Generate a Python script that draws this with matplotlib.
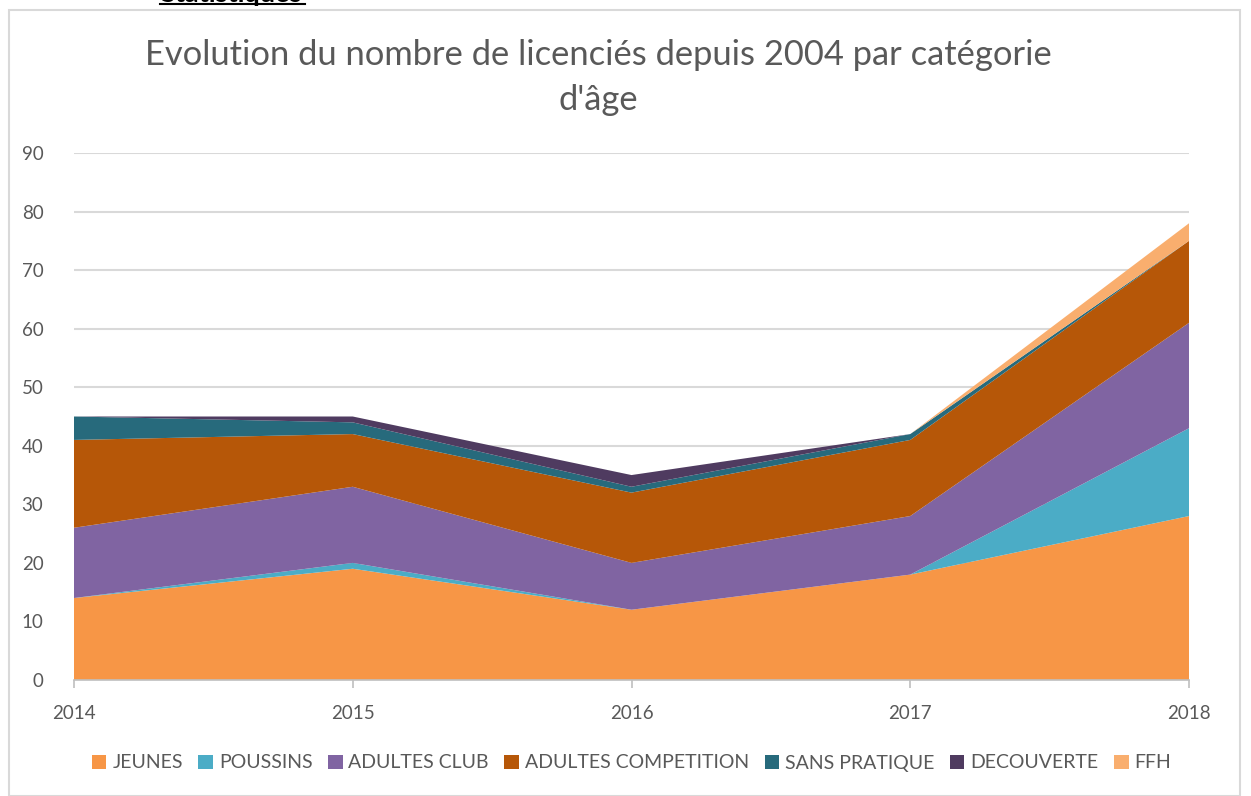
import matplotlib.pyplot as plt
from matplotlib.patches import Rectangle
from matplotlib.lines import Line2D

# -------------------------------
# Data
# -------------------------------
years = [2014, 2015, 2016, 2017, 2018]

jeunes = [14, 19, 12, 18, 28]
poussins = [0, 1, 0, 0, 15]
adultes_club = [12, 13, 8, 10, 18]
adultes_competition = [15, 9, 12, 13, 14]
sans_pratique = [4, 2, 1, 1, 0]
decouverte = [0, 1, 2, 0, 0]
ffh = [0, 0, 0, 0, 3]

labels = ["JEUNES", "POUSSINS", "ADULTES CLUB", "ADULTES COMPETITION",
          "SANS PRATIQUE", "DECOUVERTE", "FFH"]
colors = ["#F79646", "#4BACC6", "#8064A2", "#B65708",
          "#276A7C", "#4F3B60", "#F9AE6E"]

plt.rcParams["font.family"] = ["Lato", "DejaVu Sans"]

fig = plt.figure(figsize=(12.51, 7.96), dpi=100)
ax = fig.add_axes([74 / 1251, 1 - 680 / 796, (1189 - 74) / 1251, (680 - 153) / 796])

ax.stackplot(years, jeunes, poussins, adultes_club, adultes_competition,
             sans_pratique, decouverte, ffh,
             labels=labels, colors=colors, linewidth=0)

ax.set_xlim(2014, 2018)
ax.set_ylim(0, 90)
ax.set_yticks(range(0, 91, 10))
ax.set_xticks(years)
ax.grid(axis="y", color="#D9D9D9", linewidth=1.5)
ax.set_axisbelow(True)

for s in ["top", "right", "left"]:
    ax.spines[s].set_visible(False)
ax.spines["bottom"].set_color("#BFBFBF")
ax.spines["bottom"].set_linewidth(1.2)
ax.tick_params(axis="y", length=0, pad=22, labelsize=13.5, labelcolor="#595959")
ax.tick_params(axis="x", length=6, color="#BFBFBF", width=1.2, pad=12,
               labelsize=13.5, labelcolor="#595959")

# title (two lines, centred like the original)
fig.text(598 / 1251, 1 - 55 / 796,
         "Evolution du nombre de licenciés depuis 2004 par catégorie",
         fontsize=24.8, color="#595959", ha="center", va="center")
fig.text(598 / 1251, 1 - 100 / 796, "d'âge",
         fontsize=24.8, color="#595959", ha="center", va="center")

leg = ax.legend(loc="center", bbox_to_anchor=(0.5, -(763 - 680) / 527), ncol=7,
                frameon=False, fontsize=14, handlelength=0.75, handleheight=0.75,
                handletextpad=0.3, columnspacing=0.8, labelcolor="#595959")

# chart border
fig.patches.append(Rectangle((9 / 1251, 0), 1231 / 1251, 1 - 10 / 796,
                             transform=fig.transFigure, fill=False,
                             edgecolor="#D9D9D9", linewidth=1.5))

# cut-off heading above the chart
fig.text(160 / 1251, 1 - 6 / 796, "Statistiques", fontsize=19.5, fontweight="bold",
         va="bottom", ha="left", color="black")
fig.lines.append(Line2D([160 / 1251, 305 / 1251], [1 - 4 / 796, 1 - 4 / 796],
                        transform=fig.transFigure, color="black", linewidth=1.5))

fig.savefig("out.png", dpi=100)
